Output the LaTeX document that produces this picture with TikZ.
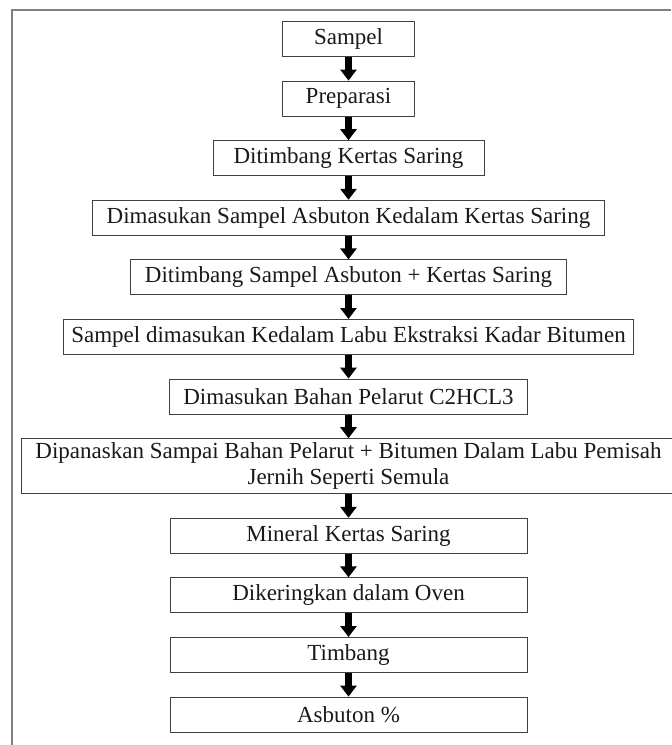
\documentclass[tikz,border=0pt]{standalone}
\usepackage{fontspec}
\setmainfont{Liberation Serif}
\usetikzlibrary{positioning,arrows.meta}

\begin{document}
\begin{tikzpicture}[
  x=0.5pt, y=-0.5pt,
  node distance=11.8pt,
  every node/.style={align=center, font=\fontsize{11.5}{13}\selectfont, text=black!90},
  stepbox/.style={draw=black!75, line width=0.5pt, minimum height=17.5pt, inner xsep=7pt, inner ysep=1.5pt},
  flow/.style={draw, black, line width=3.5pt, -{Triangle[width=8pt,length=5.5pt]}}
]
\useasboundingbox (0,0) rectangle (671,745);
% frame
\draw[gray, line width=1pt] (671,10) -- (12,10) -- (12,745);

\node[stepbox, minimum width=66pt] (sampel) at (348.5,39) {Sampel};
\node[stepbox, minimum width=66pt, below=of sampel] (prep) {Preparasi};
\node[stepbox, minimum width=135.5pt, below=of prep] (timbangks) {Ditimbang Kertas Saring};
\node[stepbox, below=of timbangks] (masuksa) {Dimasukan Sampel Asbuton Kedalam Kertas Saring};
\node[stepbox, below=of masuksa] (timbangsa) {Ditimbang Sampel Asbuton + Kertas Saring};
\node[stepbox, inner xsep=4pt, below=of timbangsa] (labu) {Sampel dimasukan Kedalam Labu Ekstraksi Kadar Bitumen};
\node[stepbox, minimum width=178.5pt, below=of labu] (pelarut) {Dimasukan Bahan Pelarut C2HCL3};
\node[stepbox, minimum width=321pt, minimum height=27.5pt, below=of pelarut] (panas)
  {Dipanaskan Sampai Bahan Pelarut + Bitumen Dalam Labu Pemisah\\Jernih Seperti Semula};
\node[stepbox, minimum width=178.5pt, below=of panas] (mineral) {Mineral Kertas Saring};
\node[stepbox, minimum width=178.5pt, below=of mineral] (oven) {Dikeringkan dalam Oven};
\node[stepbox, minimum width=178.5pt, below=of oven] (timbang) {Timbang};
\node[stepbox, minimum width=178.5pt, below=of timbang] (hasil) {Asbuton \%};

\foreach \a/\b in {sampel/prep, prep/timbangks, timbangks/masuksa, masuksa/timbangsa,
  timbangsa/labu, labu/pelarut, pelarut/panas, panas/mineral, mineral/oven,
  oven/timbang, timbang/hasil}
  \draw[flow] (\a) -- (\b);
\end{tikzpicture}
\end{document}
